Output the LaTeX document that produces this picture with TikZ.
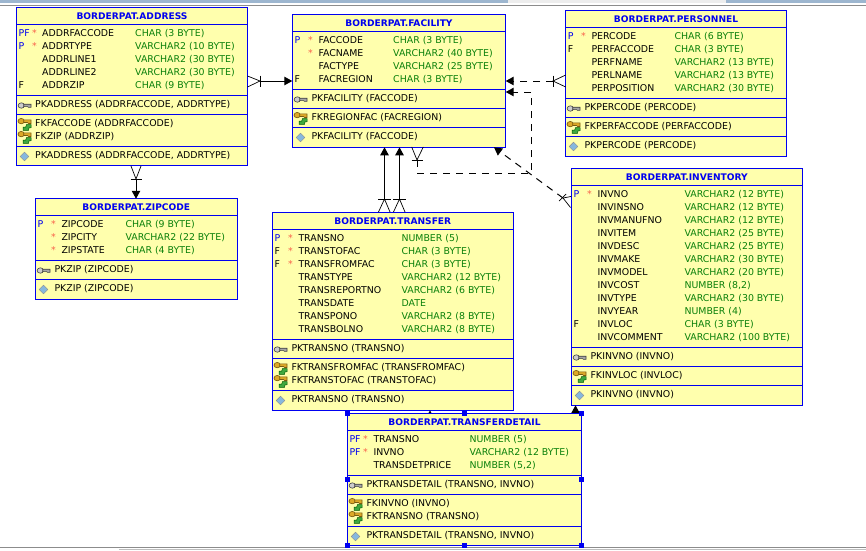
\documentclass[tikz,border=0pt]{standalone}
\usepackage{fontspec}
\setmainfont{DejaVu Sans}
\usetikzlibrary{arrows.meta}

\definecolor{erblue}{HTML}{0000F0}
\definecolor{erfill}{HTML}{FFFFAD}
\definecolor{ergreen}{HTML}{0A800A}
\definecolor{erstar}{HTML}{F8604A}
\definecolor{barblue}{HTML}{9DB6CF}
\definecolor{bargray}{HTML}{EDEDED}
\definecolor{keygold}{HTML}{DCA828}
\definecolor{keyedge}{HTML}{7A5A10}
\definecolor{keygreen}{HTML}{3FA83F}
\definecolor{idxblue}{HTML}{86B8DE}

\newcommand{\kp}{\textcolor{erblue}{P}}
\newcommand{\kpf}{\textcolor{erblue}{PF}}

\tikzset{
  tbl/.style={draw=erblue, fill=erfill, line width=1.1pt, inner sep=0pt, outer sep=0pt},
  rowsep/.style={draw=erblue, line width=1pt},
  cell/.style={anchor=base west, inner sep=0pt, yshift=-3.5pt, font=\fontsize{9.4}{11}\selectfont},
  tipe/.style={cell, text=ergreen},
  starcell/.style={cell, text=erstar},
  title/.style={inner sep=0pt, text=erblue, font=\fontsize{9.1}{11}\selectfont\bfseries},
  rel/.style={line width=1pt, -{Triangle[length=8pt,width=8.5pt]}},
  reldash/.style={rel, dash pattern=on 7pt off 6pt},
  crow/.style={line width=.7pt},
  hdl/.style={fill=erblue, inner sep=0pt, minimum size=5pt},
  pkkey/.pic={
    \draw[black!75, fill=black!20, line width=.6pt] (-3.2,1.5) ellipse (3.2 and 2.7);
    \draw[black!75, fill=black!35, line width=.6pt] (-.8,.2) -- (6.5,.2) -- (6.5,3.4) -- (4,3.4) -- (3,2.6) -- (-.8,2.6) -- cycle;
  },
  fkkey/.pic={
    \draw[keyedge, fill=keygold, line width=.6pt] (-3.3,-3.4) ellipse (3.2 and 2.7);
    \draw[keyedge, fill=keygold, line width=.6pt] (-.8,-4.6) -- (6.5,-4.6) -- (6.5,-1) -- (4,-1) -- (3,-2) -- (-.8,-2) -- cycle;
    \draw[green!35!black, fill=keygreen, line width=.5pt] (-1.5,5.8) -- (-1.5,2.6) -- (1.2,2.6) -- (2,0) -- (6.5,0) -- (6.5,3.2) -- (4.5,3.4) -- (4,5.8) -- cycle;
  },
  idx/.pic={
    \draw[black!45, fill=idxblue, line width=.4pt] (-4.3,0) -- (0,-4.3) -- (4.3,0) -- (0,4.3) -- cycle;
  },
}

\begin{document}
\begin{tikzpicture}[x=1pt, y=-1pt]
\useasboundingbox (0,0) rectangle (866,550);

% window edges
\fill[barblue] (0,0) rectangle (866,3);
\fill[bargray] (508,0) rectangle (726,3);
\draw[black!45, line width=1pt] (0,5) -- (866,5);
\draw[black!45, line width=1pt] (0,547.5) -- (866,547.5);
\draw[black!25, line width=1pt] (119,549.5) -- (866,549.5);

% links that sit behind the tables
\coordinate (addrfac) at (260,81);
\coordinate (addrzip) at (136,179);
\coordinate (perfac) at (553,81);
\coordinate (fackink) at (417,160);
\coordinate (invfac) at (563,198);
\coordinate (trafac1) at (384.5,199);
\coordinate (trafac2) at (399.5,199);
\coordinate (ditra) at (430,416);
\coordinate (diinv) at (575.5,416);

% ADDRESS
\node[tbl, minimum width=231pt, minimum height=158.5pt] (address) at (132,86.5) {};
\node[title] (address-title) at (132,16) {BORDERPAT.ADDRESS};
\foreach \y in {24,95,114,146}
  \draw[rowsep] (16.5,\y) -- (247.5,\y);
\foreach \fl/\st/\nm/\ty [count=\i] in {
  \kpf/*/ADDRFACCODE/{CHAR (3 BYTE)},
  \kp/*/ADDRTYPE/{VARCHAR2 (10 BYTE)},
  //ADDRLINE1/{VARCHAR2 (30 BYTE)},
  //ADDRLINE2/{VARCHAR2 (30 BYTE)},
  F//ADDRZIP/{CHAR (9 BYTE)}} {
  \node[cell] (address-f\i) at (18.5,20+13*\i) {\fl};
  \node[starcell] (address-s\i) at (32,20+13*\i) {\st};
  \node[cell] (address-n\i) at (42,20+13*\i) {\nm};
  \node[tipe] (address-t\i) at (135,20+13*\i) {\ty};
}
\pic at (24.5,104) {pkkey};
\node[cell] (address-pk) at (35,104) {PKADDRESS (ADDRFACCODE, ADDRTYPE)};
\pic at (24.5,124.5) {fkkey};
\node[cell] (address-fk1) at (35,123) {FKFACCODE (ADDRFACCODE)};
\pic at (24.5,137.5) {fkkey};
\node[cell] (address-fk2) at (35,136) {FKZIP (ADDRZIP)};
\pic at (24.5,156.5) {idx};
\node[cell] (address-ix) at (35,155) {PKADDRESS (ADDRFACCODE, ADDRTYPE)};

% ZIPCODE
\node[tbl, minimum width=202pt, minimum height=100.5pt] (zipcode) at (136.3,249) {};
\node[title] (zipcode-title) at (136.3,207) {BORDERPAT.ZIPCODE};
\foreach \y in {215.5,260,279.5}
  \draw[rowsep] (35.3,\y) -- (237.3,\y);
\foreach \fl/\st/\nm/\ty [count=\i] in {
  \kp/*/ZIPCODE/{CHAR (9 BYTE)},
  /*/ZIPCITY/{VARCHAR2 (22 BYTE)},
  /*/ZIPSTATE/{CHAR (4 BYTE)}} {
  \node[cell] (zipcode-f\i) at (37.3,211+13*\i) {\fl};
  \node[starcell] (zipcode-s\i) at (51,211+13*\i) {\st};
  \node[cell] (zipcode-n\i) at (61.3,211+13*\i) {\nm};
  \node[tipe] (zipcode-t\i) at (125.3,211+13*\i) {\ty};
}
\pic at (43.5,269) {pkkey};
\node[cell] (zipcode-pk) at (54.3,269) {PKZIP (ZIPCODE)};
\pic at (43.5,289.5) {idx};
\node[cell] (zipcode-ix) at (54.3,288) {PKZIP (ZIPCODE)};

% FACILITY
\node[tbl, minimum width=213.4pt, minimum height=133pt] (facility) at (399,80.8) {};
\node[title] (facility-title) at (399,23) {BORDERPAT.FACILITY};
\foreach \y in {31.5,89.5,108.5,127.5}
  \draw[rowsep] (292.3,\y) -- (505.7,\y);
\foreach \fl/\st/\nm/\ty [count=\i] in {
  \kp/*/FACCODE/{CHAR (3 BYTE)},
  /*/FACNAME/{VARCHAR2 (40 BYTE)},
  //FACTYPE/{VARCHAR2 (25 BYTE)},
  F//FACREGION/{CHAR (3 BYTE)}} {
  \node[cell] (facility-f\i) at (294.5,27+13*\i) {\fl};
  \node[starcell] (facility-s\i) at (308,27+13*\i) {\st};
  \node[cell] (facility-n\i) at (318.3,27+13*\i) {\nm};
  \node[tipe] (facility-t\i) at (393,27+13*\i) {\ty};
}
\pic at (300.5,98) {pkkey};
\node[cell] (facility-pk) at (311.3,98) {PKFACILITY (FACCODE)};
\pic at (300.5,118.5) {fkkey};
\node[cell] (facility-fk) at (311.3,117) {FKREGIONFAC (FACREGION)};
\pic at (300.5,137.5) {idx};
\node[cell] (facility-ix) at (311.3,136) {PKFACILITY (FACCODE)};

% PERSONNEL
\node[tbl, minimum width=220.6pt, minimum height=145.7pt] (personnel) at (676,83.2) {};
\node[title] (personnel-title) at (676,19) {BORDERPAT.PERSONNEL};
\foreach \y in {27.5,98.5,117.5,136.5}
  \draw[rowsep] (565.7,\y) -- (786.3,\y);
\foreach \fl/\st/\nm/\ty [count=\i] in {
  \kp/*/PERCODE/{CHAR (6 BYTE)},
  F//PERFACCODE/{CHAR (3 BYTE)},
  //PERFNAME/{VARCHAR2 (13 BYTE)},
  //PERLNAME/{VARCHAR2 (13 BYTE)},
  //PERPOSITION/{VARCHAR2 (30 BYTE)}} {
  \node[cell] (personnel-f\i) at (567.7,23+13*\i) {\fl};
  \node[starcell] (personnel-s\i) at (581,23+13*\i) {\st};
  \node[cell] (personnel-n\i) at (591.3,23+13*\i) {\nm};
  \node[tipe] (personnel-t\i) at (674.3,23+13*\i) {\ty};
}
\pic at (573.5,107) {pkkey};
\node[cell] (personnel-pk) at (584.3,107) {PKPERCODE (PERCODE)};
\pic at (573.5,127.5) {fkkey};
\node[cell] (personnel-fk) at (584.3,126) {FKPERFACCODE (PERFACCODE)};
\pic at (573.5,146.5) {idx};
\node[cell] (personnel-ix) at (584.3,145) {PKPERCODE (PERCODE)};

% INVENTORY
\node[tbl, minimum width=231pt, minimum height=236.6pt] (inventory) at (686.8,287) {};
\node[title] (inventory-title) at (686.8,177) {BORDERPAT.INVENTORY};
\foreach \y in {185.5,347.5,366.5,385.5}
  \draw[rowsep] (571.3,\y) -- (802.3,\y);
\foreach \fl/\st/\nm/\ty [count=\i] in {
  \kp/*/INVNO/{VARCHAR2 (12 BYTE)},
  //INVINSNO/{VARCHAR2 (12 BYTE)},
  //INVMANUFNO/{VARCHAR2 (12 BYTE)},
  //INVITEM/{VARCHAR2 (25 BYTE)},
  //INVDESC/{VARCHAR2 (25 BYTE)},
  //INVMAKE/{VARCHAR2 (30 BYTE)},
  //INVMODEL/{VARCHAR2 (20 BYTE)},
  //INVCOST/{NUMBER (8,2)},
  //INVTYPE/{VARCHAR2 (30 BYTE)},
  //INVYEAR/{NUMBER (4)},
  F//INVLOC/{CHAR (3 BYTE)},
  //INVCOMMENT/{VARCHAR2 (100 BYTE)}} {
  \node[cell] (inventory-f\i) at (573.5,181+13*\i) {\fl};
  \node[starcell] (inventory-s\i) at (587,181+13*\i) {\st};
  \node[cell] (inventory-n\i) at (597.3,181+13*\i) {\nm};
  \node[tipe] (inventory-t\i) at (684.3,181+13*\i) {\ty};
}
\pic at (579.5,356) {pkkey};
\node[cell] (inventory-pk) at (590.3,356) {PKINVNO (INVNO)};
\pic at (579.5,376.5) {fkkey};
\node[cell] (inventory-fk) at (590.3,375) {FKINVLOC (INVLOC)};
\pic at (579.5,395.5) {idx};
\node[cell] (inventory-ix) at (590.3,394) {PKINVNO (INVNO)};

% TRANSFER
\node[tbl, minimum width=241pt, minimum height=198pt] (transfer) at (392.8,311.3) {};
\node[title] (transfer-title) at (392.8,221) {BORDERPAT.TRANSFER};
\foreach \y in {229.5,339.5,358.5,390}
  \draw[rowsep] (272.3,\y) -- (513.3,\y);
\foreach \fl/\st/\nm/\ty [count=\i] in {
  \kp/*/TRANSNO/{NUMBER (5)},
  F/*/TRANSTOFAC/{CHAR (3 BYTE)},
  F/*/TRANSFROMFAC/{CHAR (3 BYTE)},
  //TRANSTYPE/{VARCHAR2 (12 BYTE)},
  //TRANSREPORTNO/{VARCHAR2 (6 BYTE)},
  //TRANSDATE/DATE,
  //TRANSPONO/{VARCHAR2 (8 BYTE)},
  //TRANSBOLNO/{VARCHAR2 (8 BYTE)}} {
  \node[cell] (transfer-f\i) at (274.3,225+13*\i) {\fl};
  \node[starcell] (transfer-s\i) at (288,225+13*\i) {\st};
  \node[cell] (transfer-n\i) at (298.3,225+13*\i) {\nm};
  \node[tipe] (transfer-t\i) at (401.3,225+13*\i) {\ty};
}
\pic at (280.5,348) {pkkey};
\node[cell] (transfer-pk) at (291.3,348) {PKTRANSNO (TRANSNO)};
\pic at (280.5,368.5) {fkkey};
\node[cell] (transfer-fk1) at (291.3,367) {FKTRANSFROMFAC (TRANSFROMFAC)};
\pic at (280.5,381.5) {fkkey};
\node[cell] (transfer-fk2) at (291.3,380) {FKTRANSTOFAC (TRANSTOFAC)};
\pic at (280.5,400.5) {idx};
\node[cell] (transfer-ix) at (291.3,399) {PKTRANSNO (TRANSNO)};

% links
\draw[rel] (addrfac) -- (facility.west |- addrfac);
\draw[crow] (address.east |- 0,76) -- (addrfac) -- (address.east |- 0,87);
\draw[crow] (260,75.5) -- (260,86.5);

\draw[rel] (addrzip) -- (zipcode.north -| addrzip);
\draw[crow] (131,166) -- (addrzip) -- (141,166);
\draw[crow] (130.5,179) -- (141.5,179);

\draw[reldash] (perfac) -- (facility.east |- perfac);
\draw[crow] (personnel.west |- 0,75) -- (perfac) -- (personnel.west |- 0,87);
\draw[crow] (553,75.5) -- (553,86.5);

\draw[reldash] (fackink) -- (417,173) -- (531,173) -- (531,92) -- (facility.east |- 0,92);
\draw[crow] (411.7,147) -- (fackink) -- (423.3,147);
\draw[crow] (411.5,160) -- (423,160);

\draw[reldash] (invfac) -- (facility.-35.5);
\draw[crow] (571,196.5) -- (invfac) -- (570.5,207.5);
\draw[crow] (559,201) -- (566,194);

\draw[rel] (trafac1) -- (facility.south -| trafac1);
\draw[crow] (378.5,212) -- (trafac1) -- (390,212);
\draw[crow] (378,199.5) -- (391,199.5);

\draw[rel] (trafac2) -- (facility.south -| trafac2);
\draw[crow] (393.5,212) -- (trafac2) -- (405,212);
\draw[crow] (393,199.5) -- (406,199.5);

\draw[rel] (diinv) -- (inventory.south -| diinv);
\draw[rel, -{Triangle[length=4pt,width=4pt]}] (ditra) -- (transfer.south -| ditra);

% TRANSFERDETAIL
\node[tbl, minimum width=234.4pt, minimum height=131.7pt] (transferdetail) at (464.5,479.2) {};
\node[title] (transferdetail-title) at (464.5,422) {BORDERPAT.TRANSFERDETAIL};
\foreach \y in {430.5,475.5,494.5,526.5}
  \draw[rowsep] (347.3,\y) -- (581.7,\y);
\foreach \fl/\st/\nm/\ty [count=\i] in {
  \kpf/*/TRANSNO/{NUMBER (5)},
  \kpf/*/INVNO/{VARCHAR2 (12 BYTE)},
  //TRANSDETPRICE/{NUMBER (5,2)}} {
  \node[cell] (transferdetail-f\i) at (349.3,426+13*\i) {\fl};
  \node[starcell] (transferdetail-s\i) at (363,426+13*\i) {\st};
  \node[cell] (transferdetail-n\i) at (373.3,426+13*\i) {\nm};
  \node[tipe] (transferdetail-t\i) at (469.3,426+13*\i) {\ty};
}
\pic at (355.5,484) {pkkey};
\node[cell] (transferdetail-pk) at (366.3,484) {PKTRANSDETAIL (TRANSNO, INVNO)};
\pic at (355.5,504.5) {fkkey};
\node[cell] (transferdetail-fk1) at (366.3,503) {FKINVNO (INVNO)};
\pic at (355.5,517.5) {fkkey};
\node[cell] (transferdetail-fk2) at (366.3,516) {FKTRANSNO (TRANSNO)};
\pic at (355.5,536.5) {idx};
\node[cell] (transferdetail-ix) at (366.3,535) {PKTRANSDETAIL (TRANSNO, INVNO)};

% selection handles
\foreach \a [count=\i] in {north west,north,north east,west,east,south west,south,south east}
  \node[hdl] (hdl\i) at (transferdetail.\a) {};
\end{tikzpicture}
\end{document}
